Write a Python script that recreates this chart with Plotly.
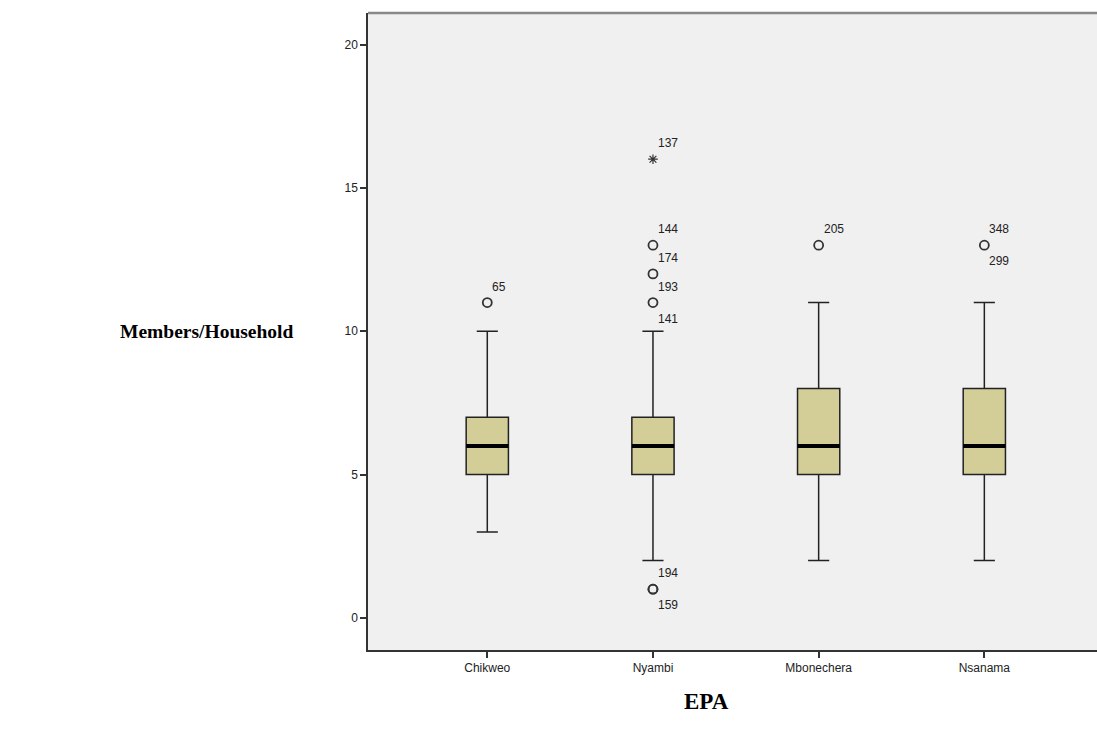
import plotly.graph_objects as go

categories = ["Chikweo", "Nyambi", "Mbonechera", "Nsanama"]
q1 = [5, 5, 5, 5]
median = [6, 6, 6, 6]
q3 = [7, 7, 8, 8]
lower_whisker = [3, 2, 2, 2]
upper_whisker = [10, 10, 11, 11]

# outliers (circles) and extremes (stars)
outlier_cat = [0, 1, 1, 1, 1, 1, 2, 3]
outlier_val = [11, 13, 12, 11, 1, 1, 13, 13]
extreme_cat = [1]
extreme_val = [16]

# case labels: category index, value, text, side (-1 above, +1 below)
label_cat = [0, 1, 1, 1, 1, 1, 1, 1, 2, 3, 3]
label_val = [11, 16, 13, 12, 11, 11, 1, 1, 13, 13, 13]
label_text = ["65", "137", "144", "174", "193", "141", "194", "159", "205", "348", "299"]
label_side = [-1, -1, -1, -1, -1, 1, -1, 1, -1, -1, 1]

W, H = 1097, 742
L, T, B = 368, 13, 92
BOX_W = 0.255

fig = go.Figure()
xs = list(range(len(categories)))
fig.add_trace(go.Box(
    x=xs, q1=q1, median=median, q3=q3,
    lowerfence=lower_whisker, upperfence=upper_whisker,
    width=BOX_W, whiskerwidth=0.5,
    fillcolor="#D3CE98", line=dict(color="#222", width=1.5),
    boxpoints=False, showlegend=False, hoverinfo="skip",
))

# thick median lines
mx, my = [], []
for i, m in enumerate(median):
    mx += [i - BOX_W / 2, i + BOX_W / 2, None]
    my += [m, m, None]
fig.add_trace(go.Scatter(x=mx, y=my, mode="lines",
                         line=dict(color="black", width=4), showlegend=False, hoverinfo="skip"))

fig.add_trace(go.Scatter(x=outlier_cat, y=outlier_val, mode="markers",
                         marker=dict(symbol="circle-open", size=9, color="#333",
                                     line=dict(width=1.8, color="#333")),
                         showlegend=False, hoverinfo="skip"))
fig.add_trace(go.Scatter(x=extreme_cat, y=extreme_val, mode="markers",
                         marker=dict(symbol="asterisk-open", size=8, color="#333",
                                     line=dict(width=1.2, color="#333")),
                         showlegend=False, hoverinfo="skip"))

for c, v, t, s in zip(label_cat, label_val, label_text, label_side):
    fig.add_annotation(x=c, y=v, text=t, showarrow=False, xanchor="left",
                       xshift=3, yshift=-16 * s,
                       font=dict(family="Liberation Sans, Arial", size=12, color="#222"))

pw = W - L
ph = H - T - B
fig.add_annotation(xref="paper", yref="paper", x=(206 - L) / pw, y=(H - B - 331) / ph,
                   xanchor="center", yanchor="middle",
                   text="<b>Members/Household</b>", showarrow=False,
                   font=dict(family="Liberation Serif, Times New Roman", size=19.5, color="black"))
fig.add_annotation(xref="paper", yref="paper", x=(706 - L) / pw, y=-(701 - (H - B)) / ph,
                   xanchor="center", yanchor="middle",
                   text="<b>EPA</b>", showarrow=False,
                   font=dict(family="Liberation Serif, Times New Roman", size=23, color="black"))

fig.add_shape(type="line", xref="paper", yref="paper", x0=0, x1=1, y0=1, y1=1,
              line=dict(color="#888", width=2.5))

fig.update_layout(
    width=W, height=H,
    margin=dict(l=L, r=0, t=T, b=B),
    paper_bgcolor="white", plot_bgcolor="#F0F0F0",
    xaxis=dict(range=[-0.72, 3.68], tickmode="array", tickvals=xs, ticktext=categories,
               showgrid=False, zeroline=False, showline=True, linecolor="#333", linewidth=1.5,
               ticks="outside", ticklen=6, tickcolor="#333", tickwidth=1.5,
               tickfont=dict(family="Liberation Sans, Arial", size=12, color="#222")),
    yaxis=dict(range=[-1.12, 21.1], tickvals=[0, 5, 10, 15, 20],
               showgrid=False, zeroline=False, showline=True, linecolor="#333", linewidth=1.5,
               ticks="outside", ticklen=6, tickcolor="#333", tickwidth=1.5,
               tickfont=dict(family="Liberation Sans, Arial", size=12, color="#222")),
)

fig.write_html("out.html")
